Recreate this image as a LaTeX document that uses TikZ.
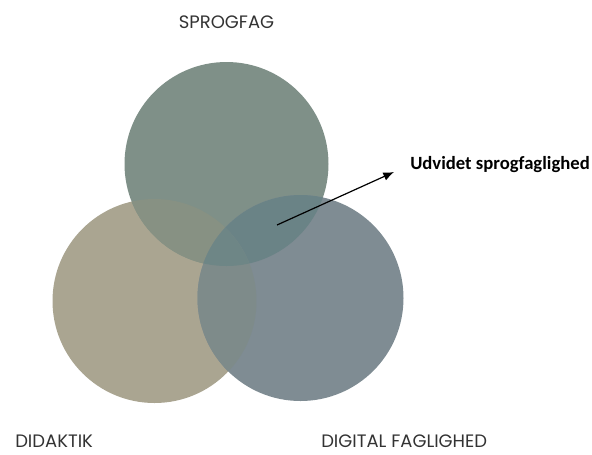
\documentclass[tikz,border=0pt]{standalone}
\usepackage{fontspec}
\usetikzlibrary{arrows.meta}
\setmainfont{Poppins}
\newfontfamily\labelfont{Carlito}
\definecolor{cTop}{HTML}{7F9088}
\definecolor{cLeft}{HTML}{AAA591}
\definecolor{cRight}{HTML}{7F8C93}
\definecolor{cTL}{HTML}{879183}
\definecolor{cTR}{HTML}{6A8386}
\definecolor{cLR}{HTML}{7E8B8A}
\definecolor{cAll}{HTML}{6E8686}
\definecolor{cText}{HTML}{333333}
\begin{document}
\begin{tikzpicture}[x=0.75pt,y=-0.75pt,
  setname/.style={font=\fontsize{13.5}{16}\selectfont, text=cText, inner sep=0pt},
  callout/.style={font=\labelfont\bfseries\fontsize{14}{16}\selectfont, text=black, inner sep=0pt, anchor=west}]
\useasboundingbox (0,0) rectangle (592,454);
% three sets
\def\rT{(226.5,164) circle[radius=102]}
\def\rL{(154.5,301) circle[radius=102]}
\def\rR{(300.5,298) circle[radius=103]}
\fill[cLeft] \rL;
\fill[cTop] \rT;
\fill[cRight] \rR;
% pairwise overlaps
\begin{scope}\clip \rT; \fill[cTL] \rL; \end{scope}
\begin{scope}\clip \rT; \fill[cTR] \rR; \end{scope}
\begin{scope}\clip \rL; \fill[cLR] \rR; \end{scope}
\begin{scope}\clip \rT; \clip \rL; \fill[cAll] \rR; \end{scope}
% set names
\node[setname] (sprog) at (226.5,22) {SPROGFAG};
\node[setname, anchor=base west] (didak) at (15,447) {DIDAKTIK};
\node[setname, anchor=base west] (digital) at (321,447) {DIGITAL FAGLIGHED};
% callout
\node[callout] (udv) at (410,165) {Udvidet sprogfaglighed};
\coordinate (core) at (277,225);
\coordinate (tip) at (394,172);
\draw[line width=0.9pt, -{Latex[length=8pt,width=6.5pt]}] (core) -- (tip);
\end{tikzpicture}
\end{document}
